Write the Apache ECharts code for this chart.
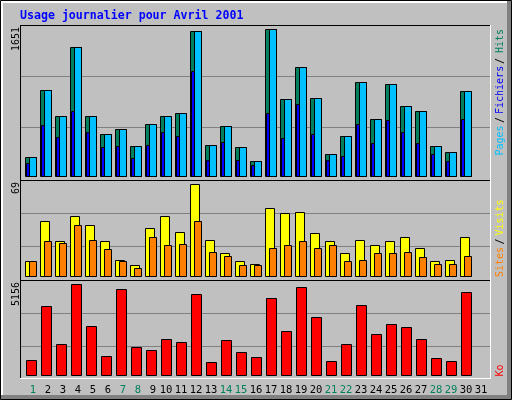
<!doctype html>
<html lang="fr">
<head>
<meta charset="UTF-8">
<title>Usage journalier pour Avril 2001</title>
<script src="https://cdn.jsdelivr.net/npm/echarts@6/dist/echarts.min.js"></script>
<style>
    html, body { margin: 0; padding: 0; background: #C0C0C0; }
</style>
</head>
<body>
<div id="main" style="width:512px; height:400px;"></div>

<script>
    var days = ['1', '2', '3', '4', '5', '6', '7', '8', '9', '10', '11', '12', '13', '14', '15', '16',
        '17', '18', '19', '20', '21', '22', '23', '24', '25', '26', '27', '28', '29', '30', '31'];
    var weekendDays = [1, 7, 8, 14, 15, 21, 22, 28, 29];   // samedis / dimanches en vert

    var hits = [219, 967, 675, 1449, 675, 473, 529, 339, 585, 675, 709, 1629, 350, 563, 328,
        170, 1651, 866, 1225, 877, 249, 451, 1060, 645, 1034, 787, 735, 339, 271, 959];
    var files = [151, 574, 443, 735, 496, 331, 342, 207, 353, 499, 454, 1183, 185, 387, 185,
        129, 712, 432, 813, 477, 185, 230, 589, 376, 634, 499, 376, 252, 163, 645];
    var pages = [219, 967, 675, 1449, 675, 473, 529, 339, 585, 675, 709, 1629, 350, 563, 328,
        170, 1651, 866, 1225, 877, 249, 451, 1060, 645, 1034, 787, 735, 339, 271, 959];
    var visits = [11, 41, 26, 45, 38, 26, 12, 8, 36, 45, 33, 69, 27, 17, 11,
        9, 51, 47, 48, 32, 26, 17, 27, 23, 26, 29, 21, 11, 12, 29];
    var sites = [11, 26, 25, 38, 27, 20, 11, 6, 29, 23, 24, 41, 18, 15, 8,
        8, 21, 23, 26, 21, 23, 11, 12, 17, 17, 18, 14, 9, 9, 15];
    var kbytes = [859, 3913, 1764, 5156, 2782, 1086, 4874, 1594, 1425, 2047, 1877, 4591, 746, 1990, 1312,
        1029, 4365, 2499, 4987, 3291, 803, 1764, 3969, 2329, 2895, 2725, 2047, 972, 803, 4704];

    var MONO = '"DejaVu Sans Mono", "Liberation Mono", monospace';
    var GREEN = '#00805C', BLUE = '#0000FF', CYAN = '#00C0FF';
    var YELLOW = '#FFFF00', ORANGE = '#FF8000', RED = '#FF0000';

    // cadre de chaque panneau, ligne de base des barres, hauteur de la plus grande barre
    var panels = [
        {top: 25.5, bottom: 178.5, base: 176.5, peak: 29.5, max: Math.max.apply(null, hits)},
        {top: 180.5, bottom: 279.5, base: 276.5, peak: 184.5, max: Math.max.apply(null, visits)},
        {top: 280.5, bottom: 379.5, base: 375.5, peak: 284.5, max: Math.max.apply(null, kbytes)}
    ];

    var grid = [], xAxis = [], yAxis = [];
    panels.forEach(function (p, k) {
        var s = p.max / (p.base - p.peak);
        // grille des lignes grises (toute la largeur du cadre)
        grid.push({left: 20, top: p.top, width: 470, height: p.bottom - p.top});
        xAxis.push({type: 'value', gridIndex: 2 * k, min: 0, max: 1, show: false});
        yAxis.push({
            type: 'value', gridIndex: 2 * k, min: 0, max: 3, interval: 1,
            axisLine: {show: false}, axisTick: {show: false}, axisLabel: {show: false},
            splitLine: {show: true, showMinLine: false, showMaxLine: false, lineStyle: {color: '#808080', width: 1}}
        });
        // grille des barres : une case de 15px par jour
        grid.push({left: 23.5, top: p.top, width: 465, height: p.bottom - p.top});
        xAxis.push({
            type: 'category', gridIndex: 2 * k + 1, data: days,
            axisLine: {show: false}, axisTick: {show: false}, splitLine: {show: false},
            axisLabel: {
                show: k === 2, interval: 0, hideOverlap: false, margin: 5,
                formatter: function (v, i) {
                    var wk = weekendDays.indexOf(i + 1) >= 0 ? 'w' : 'd';
                    return '{' + (v.length < 2 ? 's' : 'm') + wk + '|' + v + '}';
                },
                rich: {
                    sw: {color: GREEN, fontFamily: MONO, fontSize: 10.5, padding: [0, 0, 0, 4]},
                    sd: {color: '#000', fontFamily: MONO, fontSize: 10.5, padding: [0, 0, 0, 4]},
                    mw: {color: GREEN, fontFamily: MONO, fontSize: 10.5},
                    md: {color: '#000', fontFamily: MONO, fontSize: 10.5}
                }
            }
        });
        yAxis.push({
            type: 'value', gridIndex: 2 * k + 1, show: false,
            min: -(p.bottom - p.base) * s, max: (p.base - p.top) * s
        });
    });

    function bars(data, k, color, dx, w) {
        return {
            type: 'custom', xAxisIndex: 2 * k + 1, yAxisIndex: 2 * k + 1,
            silent: true, animation: false,
            data: data.map(function (v, i) { return [i, v]; }),
            renderItem: function (params, api) {
                var b = api.coord([api.value(0), 0]);
                var t = api.coord([api.value(0), api.value(1)]);
                var y0 = Math.round(b[1] - 0.5) + 0.5;
                var y1 = Math.round(t[1] - 0.5) + 0.5;
                return {
                    type: 'rect',
                    shape: {x: b[0] + dx, y: y1, width: w, height: y0 - y1},
                    style: {fill: color, stroke: '#000', lineWidth: 1}
                };
            }
        };
    }

    function line(x1, y1, x2, y2, color) {
        return {type: 'line', z: 5, silent: true, shape: {x1: x1, y1: y1, x2: x2, y2: y2},
            style: {stroke: color, lineWidth: 1}};
    }

    // texte vertical (se lit de bas en haut)
    function vtext(x, y, str, color, align) {
        return {
            type: 'text', x: x, y: y, rotation: Math.PI / 2, z: 6, silent: true,
            style: {
                text: str, fill: color, font: '10px ' + MONO,
                textAlign: align, align: align, textVerticalAlign: 'middle', verticalAlign: 'middle'
            }
        };
    }

    var graphic = [
        {type: 'rect', z: 1, silent: true, shape: {x: 1, y: 1, width: 510, height: 2}, style: {fill: '#FFFFFF'}},
        {type: 'rect', z: 1, silent: true, shape: {x: 1, y: 1, width: 2, height: 398}, style: {fill: '#FFFFFF'}},
        {type: 'rect', z: 1, silent: true, shape: {x: 507, y: 1, width: 4, height: 398}, style: {fill: '#808080'}},
        {type: 'rect', z: 1, silent: true, shape: {x: 1, y: 395, width: 510, height: 4}, style: {fill: '#808080'}},
        {type: 'rect', z: 2, silent: true, shape: {x: 0.5, y: 0.5, width: 511, height: 399},
            style: {fill: 'none', stroke: '#000', lineWidth: 1}},

        line(20, 25.5, 490, 25.5, '#000'),
        line(20.5, 25, 20.5, 379, '#000'),
        line(20, 180.5, 490, 180.5, '#000'),
        line(20, 280.5, 490, 280.5, '#000'),
        line(490.5, 25, 490.5, 379, '#FFFFFF'),
        line(20, 378.5, 491, 378.5, '#FFFFFF'),

        {
            type: 'text', x: 20, y: 16, z: 6, silent: true,
            style: {
                text: 'Usage journalier pour Avril 2001', fill: BLUE, font: 'bold 11.6px ' + MONO,
                textAlign: 'left', align: 'left', textVerticalAlign: 'middle', verticalAlign: 'middle'
            }
        },

        vtext(16, 27, String(panels[0].max), '#000', 'right'),
        vtext(16, 182, String(panels[1].max), '#000', 'right'),
        vtext(16, 282, String(panels[2].max), '#000', 'right'),

        vtext(500.5, 155.5, 'Pages', CYAN, 'left'),
        vtext(500.5, 123, '/', '#000', 'left'),
        vtext(500.5, 114, 'Fichiers', BLUE, 'left'),
        vtext(500.5, 64, '/', '#000', 'left'),
        vtext(500.5, 53, 'Hits', GREEN, 'left'),

        vtext(500.5, 277, 'Sites', ORANGE, 'left'),
        vtext(500.5, 244.5, '/', '#000', 'left'),
        vtext(500.5, 235.5, 'Visits', YELLOW, 'left'),

        vtext(500.5, 376.5, 'Ko', RED, 'left')
    ];

    var myChart = echarts.init(document.getElementById('main'));
    myChart.setOption({
        backgroundColor: '#C0C0C0',
        animation: false,
        textStyle: {fontFamily: MONO},
        grid: grid,
        xAxis: xAxis,
        yAxis: yAxis,
        graphic: graphic,
        series: [
            bars(hits, 0, GREEN, -5.5, 11),
            bars(files, 0, BLUE, -4.5, 4),
            bars(pages, 0, CYAN, -1.5, 7),
            bars(visits, 1, YELLOW, -5.5, 9),
            bars(sites, 1, ORANGE, -1.5, 7),
            bars(kbytes, 2, RED, -4.5, 10)
        ]
    });
</script>
</body>
</html>
